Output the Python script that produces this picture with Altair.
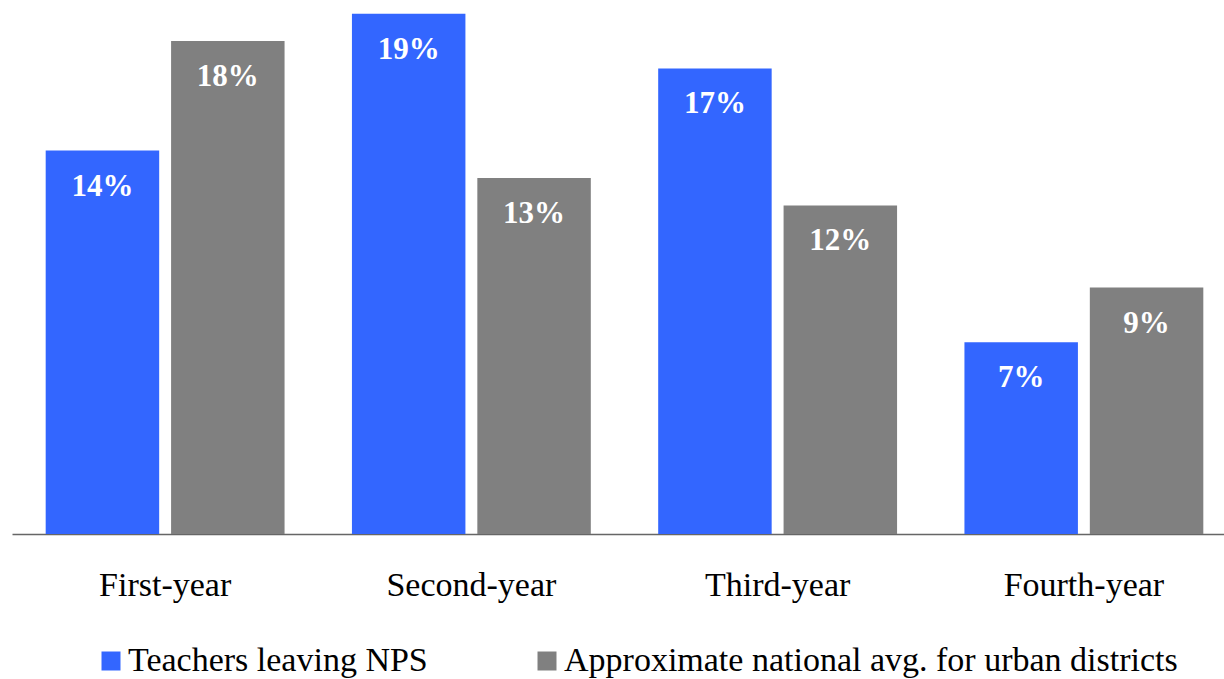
import altair as alt
import pandas as pd

# Share of teachers leaving, by years of experience
years = ["First-year", "Second-year", "Third-year", "Fourth-year"]
nps_leaving = [14, 19, 17, 7]
national_avg = [18, 13, 12, 9]

series_names = ["Teachers leaving NPS", "Approximate national avg. for urban districts"]
series_colors = ["#3366FF", "#808080"]

rows = []
for i, yr in enumerate(years):
    rows.append({"year": yr, "series": series_names[0], "value": nps_leaving[i]})
    rows.append({"year": yr, "series": series_names[1], "value": national_avg[i]})
df = pd.DataFrame(rows)
df["label"] = df["value"].astype(str) + "%"

FONT = "Liberation Serif"

x_enc = alt.X(
    "year:N",
    sort=years,
    title=None,
    scale=alt.Scale(range=[0, 1225], paddingInner=0.22, paddingOuter=0.11),
    axis=alt.Axis(
        domainColor="#666666",
        domainWidth=1.5,
        ticks=False,
        tickSize=0,
        labelAngle=0,
        labelFont=FONT,
        labelFontSize=34,
        labelColor="#000000",
        labelBaseline="alphabetic",
        labelPadding=61,
        grid=False,
    ),
)
xoff_enc = alt.XOffset(
    "series:N",
    sort=series_names,
    scale=alt.Scale(paddingInner=0.095, paddingOuter=0),
)
y_enc = alt.Y(
    "value:Q",
    scale=alt.Scale(domain=[0, 19.5], nice=False),
    axis=None,
)

bars = alt.Chart(df).mark_bar().encode(
    x=x_enc,
    xOffset=xoff_enc,
    y=y_enc,
    color=alt.Color(
        "series:N",
        sort=series_names,
        scale=alt.Scale(domain=series_names, range=series_colors),
        legend=alt.Legend(
            title=None,
            orient="none",
            direction="horizontal",
            legendX=82,
            legendY=644,
            padding=0,
            symbolType="square",
            symbolSize=361,
            symbolStrokeWidth=0,
            symbolOpacity=1,
            labelFont=FONT,
            labelFontSize=34,
            labelColor="#000000",
            labelOffset=0,
            columnPadding=102,
            labelLimit=800,
        ),
    ),
)

labels = alt.Chart(df).mark_text(
    font=FONT,
    fontSize=31,
    fontWeight="bold",
    color="white",
    baseline="alphabetic",
    dy=45,
).encode(
    x=x_enc,
    xOffset=xoff_enc,
    y=y_enc,
    text="label:N",
)

chart = (
    alt.layer(bars, labels)
    .properties(
        width=1212,
        height=534,
        autosize=alt.AutoSizeParams(type="none"),
        padding={"left": 12, "top": 0, "right": 0, "bottom": 145},
    )
    .configure_view(stroke=None)
)

chart.save("out.html", embed_options={"renderer": "svg", "actions": False})
